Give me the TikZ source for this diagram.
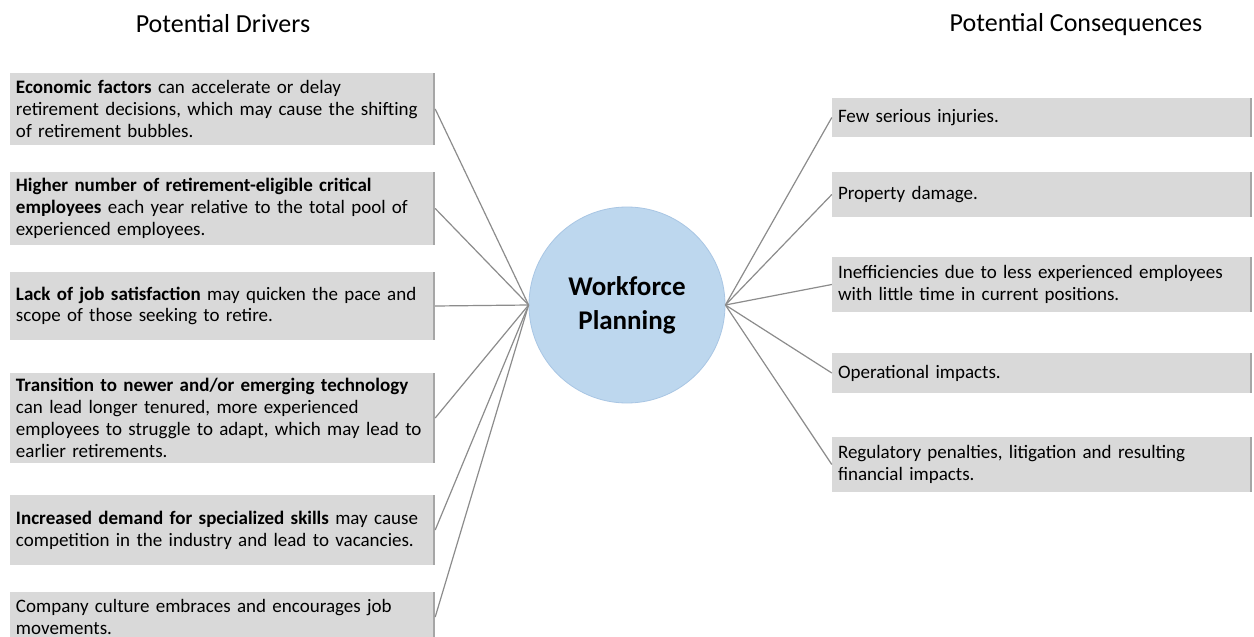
\documentclass[tikz,border=0pt]{standalone}
\usepackage{fontspec}
\setmainfont{Carlito}
\definecolor{boxfill}{HTML}{D9D9D9}
\definecolor{boxedge}{HTML}{A6A6A6}
\definecolor{circfill}{HTML}{BDD7EE}
\definecolor{circedge}{HTML}{A9C6E4}
\definecolor{linkgray}{HTML}{8C8C8C}
\begin{document}
\begin{tikzpicture}[x=1pt,y=-1pt,
  txt/.style={font=\fontsize{19}{21.8}\selectfont},
  leftbox/.style={txt, fill=boxfill, minimum width=425pt, text width=413pt, inner xsep=6pt, inner ysep=0pt, align=left,
    path picture={\draw[boxedge, line width=2pt] ([xshift=-1pt]path picture bounding box.north east) -- ([xshift=-1pt]path picture bounding box.south east);}},
  rightbox/.style={leftbox, minimum width=420pt, text width=408pt, inner xsep=5pt},
  hub/.style={circle, fill=circfill, draw=circedge, line width=0.8pt, minimum size=196pt, align=center, font=\fontsize{27}{34}\selectfont\bfseries},
  title/.style={font=\fontsize{26}{30}\selectfont},
  link/.style={draw=linkgray, line width=1.2pt}
]
\clip (0,0) rectangle (1254,637);
\fill[white] (0,0) rectangle (1254,637);

\node[title] (tl) at (223,24) {Potential Drivers};
\node[title] (tr) at (1076,25) {Potential Consequences};

\node[hub] (C) at (627,305) {Workforce\\Planning};

\node[leftbox, minimum height=72pt] (L1) at (222.5,109) {\textbf{Economic factors} can accelerate or delay\\retirement decisions, which may cause the shifting\\of retirement bubbles.};
\node[leftbox, minimum height=73pt] (L2) at (222.5,208.5) {\textbf{Higher number of retirement-eligible critical}\\\textbf{employees} each year relative to the total pool of\\experienced employees.};
\node[leftbox, minimum height=68pt] (L3) at (222.5,306) {\textbf{Lack of job satisfaction} may quicken the pace and\\scope of those seeking to retire.};
\node[leftbox, minimum height=90pt] (L4) at (222.5,418) {\textbf{Transition to newer and/or emerging technology}\\can lead longer tenured, more experienced\\employees to struggle to adapt, which may lead to\\earlier retirements.};
\node[leftbox, minimum height=70pt] (L5) at (222.5,530) {\textbf{Increased demand for specialized skills} may cause\\competition in the industry and lead to vacancies.};
\node[leftbox, minimum height=50pt] (L6) at (222.5,617) {Company culture embraces and encourages job\\movements.};

\node[rightbox, minimum height=39pt] (R1) at (1042,117.5) {Few serious injuries.};
\node[rightbox, minimum height=45pt] (R2) at (1042,194.5) {Property damage.};
\node[rightbox, minimum height=55pt] (R3) at (1042,284.5) {Inefficiencies due to less experienced employees\\with little time in current positions.};
\node[rightbox, minimum height=40pt] (R4) at (1042,373) {Operational impacts.};
\node[rightbox, minimum height=55pt] (R5) at (1042,464.5) {Regulatory penalties, litigation and resulting\\financial impacts.};

\foreach \n in {L1,L2,L3,L4,L5,L6} \draw[link] (\n.east) -- (C.west);
\foreach \n in {R1,R2,R3,R4,R5} \draw[link] (C.east) -- (\n.west);
\end{tikzpicture}
\end{document}
